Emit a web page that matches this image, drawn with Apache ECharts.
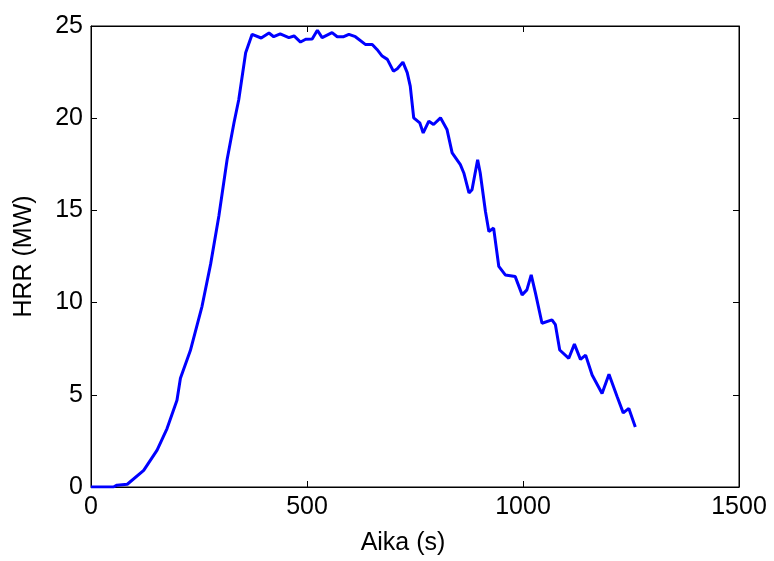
<!DOCTYPE html>
<html>
<head>
<meta charset="utf-8">
<script src="https://cdn.jsdelivr.net/npm/echarts@6/dist/echarts.min.js"></script>
<style>
  html, body { margin: 0; padding: 0; background: #fff; }
  #chart { width: 774px; height: 561px; }
</style>
</head>
<body>
<div id="chart"></div>
<script>
// time in seconds
var aika = [0, 52, 60, 84, 122, 153, 176, 199, 207, 230, 257, 277, 296, 315, 331, 342, 358, 373,
  394, 412, 423, 438, 458, 470, 485, 497, 512, 524, 535, 558, 570, 585, 597, 612, 635, 651,
  662, 674, 686, 700, 709, 722, 732, 739, 747, 761, 769, 782, 793, 809, 824, 836, 855, 863,
  875, 882, 895, 901, 913, 921, 932, 944, 959, 982, 998, 1009, 1019, 1029, 1044, 1067, 1075,
  1085, 1106, 1119, 1133, 1145, 1160, 1183, 1199, 1218, 1232, 1245, 1260];
// heat release rate in MW
var hrr = [0, 0, 0.1, 0.15, 0.9, 2.0, 3.17, 4.7, 5.9, 7.4, 9.8, 12.1, 14.7, 17.75, 19.75, 21.0, 23.55, 24.55,
  24.35, 24.62, 24.42, 24.57, 24.37, 24.46, 24.13, 24.28, 24.3, 24.77, 24.37, 24.64, 24.42, 24.42, 24.55, 24.42, 24.0, 24.0,
  23.73, 23.37, 23.19, 22.55, 22.68, 23.04, 22.47, 21.74, 20.02, 19.75, 19.2, 19.84, 19.66, 20.02, 19.39, 18.12, 17.48, 17.03,
  15.95, 16.12, 17.75, 17.03, 14.95, 13.86, 14.04, 11.96, 11.5, 11.41, 10.42, 10.69, 11.5, 10.5, 8.88, 9.06, 8.8,
  7.43, 6.98, 7.75, 6.92, 7.15, 6.07, 5.07, 6.12, 4.89, 4.02, 4.26, 3.26];

var points = aika.map(function (t, i) { return [t, hrr[i]]; });

var font = "Liberation Sans, Arial, sans-serif";

// matlab style: ticks inside, box all round
function tick() {
  return { show: true, inside: true, length: 6, lineStyle: { color: "#000", width: 1 } };
}
function line() {
  return { show: true, onZero: false, lineStyle: { color: "#000", width: 1 } };
}
function plain(v) { return String(v); }

var chart = echarts.init(document.getElementById("chart"));
chart.setOption({
  animation: false,
  backgroundColor: "#fff",
  grid: { left: 91, right: 35, top: 26, bottom: 74, show: true, borderColor: "#000", borderWidth: 1 },
  xAxis: [
    {
      type: "value",
      min: 0,
      max: 1500,
      interval: 500,
      name: "Aika (s)",
      nameLocation: "middle",
      nameGap: 44,
      nameTextStyle: { fontFamily: font, fontSize: 25, color: "#000", padding: [0, 24, 0, 0] },
      axisLine: line(),
      axisTick: tick(),
      axisLabel: { fontFamily: font, fontSize: 25, color: "#000", margin: 8, formatter: plain },
      splitLine: { show: false },
    },
    {
      type: "value",
      position: "top",
      min: 0,
      max: 1500,
      interval: 500,
      axisLine: line(),
      axisTick: tick(),
      axisLabel: { show: false },
      splitLine: { show: false },
    },
  ],
  yAxis: [
    {
      type: "value",
      min: 0,
      max: 25,
      interval: 5,
      name: "HRR (MW)",
      nameLocation: "middle",
      nameGap: 54,
      nameRotate: 90,
      nameTextStyle: { fontFamily: font, fontSize: 25, color: "#000" },
      axisLine: line(),
      axisTick: tick(),
      axisLabel: { fontFamily: font, fontSize: 25, color: "#000", margin: 8, formatter: plain },
      splitLine: { show: false },
    },
    {
      type: "value",
      position: "right",
      min: 0,
      max: 25,
      interval: 5,
      axisLine: line(),
      axisTick: tick(),
      axisLabel: { show: false },
      splitLine: { show: false },
    },
  ],
  series: [
    {
      name: "HRR",
      type: "line",
      data: points,
      showSymbol: false,
      lineStyle: { color: "#0000ff", width: 3 },
      itemStyle: { color: "#0000ff" },
    },
    {
      // invisible copy so the top/right axes get drawn
      name: "box",
      type: "line",
      xAxisIndex: 1,
      yAxisIndex: 1,
      data: points,
      showSymbol: false,
      silent: true,
      lineStyle: { opacity: 0 },
    },
  ],
});
</script>
</body>
</html>
